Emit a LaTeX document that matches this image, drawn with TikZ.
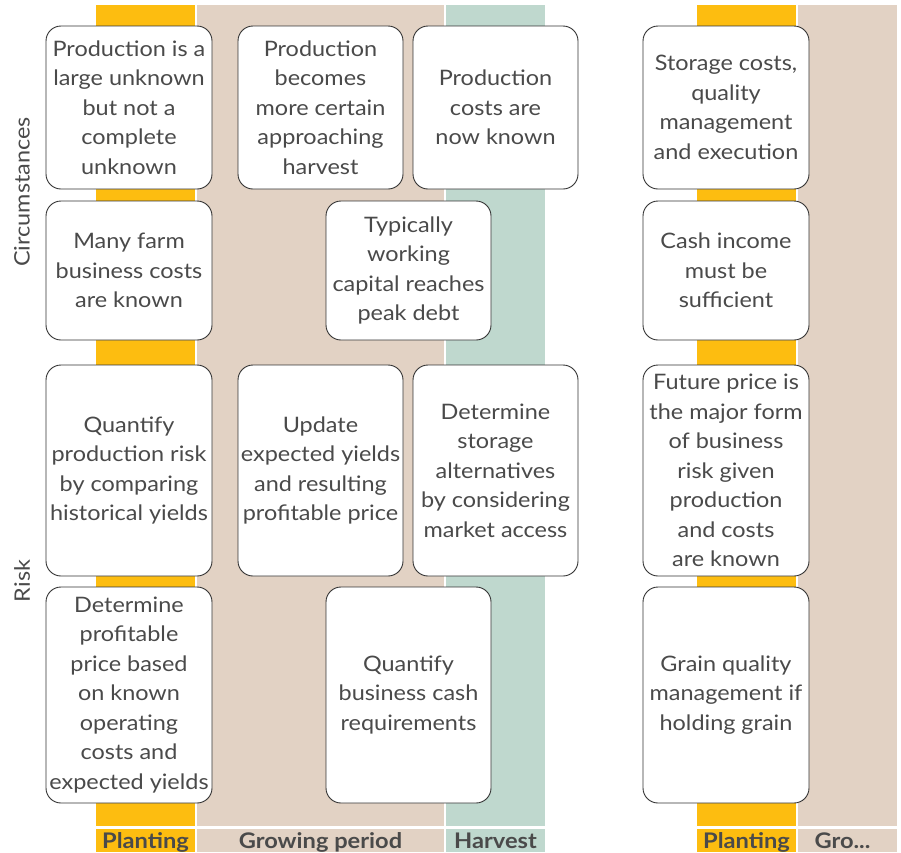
\documentclass[tikz,border=0pt]{standalone}
\usepackage{fontspec}
\setmainfont{Lato}[FakeStretch=1.1]
\definecolor{cplant}{HTML}{FDBD10}
\definecolor{cgrow}{HTML}{E2D2C4}
\definecolor{charv}{HTML}{BFD8CE}
\definecolor{txt}{HTML}{4A4A4A}
\definecolor{boxline}{HTML}{333333}
\begin{document}
\begin{tikzpicture}[x=1pt,y=-1pt,
  box/.style={draw=boxline, line width=0.9pt, rounded corners=15pt, fill=white,
    align=center, text=txt, font=\fontsize{21.3}{29.5}\selectfont, inner sep=0pt},
  colA/.style={minimum width=166pt},
  colB/.style={minimum width=165pt},
  rowA/.style={minimum height=163pt},
  rowB/.style={minimum height=139pt},
  rowC/.style={minimum height=211pt},
  rowD/.style={minimum height=216pt},
  side/.style={text=txt, font=\fontsize{21.3}{24}\selectfont, rotate=90},
  lab/.style={text=txt, font=\fontsize{21.5}{24}\selectfont\bfseries, anchor=base}
  ]
\useasboundingbox (0,0) rectangle (901,852);
% columns
\fill[cplant] (96,5) rectangle (195,826);
\fill[cgrow] (197,5) rectangle (444,826);
\fill[charv] (446,5) rectangle (545,826);
\fill[cplant] (697,5) rectangle (796,826);
\fill[cgrow] (798,5) rectangle (897,826);
% label band
\fill[cplant] (96,829) rectangle (195,852);
\fill[cgrow] (197,829) rectangle (444,852);
\fill[charv] (446,829) rectangle (545,852);
\fill[cplant] (697,829) rectangle (796,852);
\fill[cgrow] (798,829) rectangle (897,852);
\node[lab] (l1) at (145.5,848) {Planting};
\node[lab] (l2) at (320.5,848) {Growing period};
\node[lab] (l3) at (495.5,848) {Harvest};
\node[lab] (l4) at (746.5,848) {Planting};
\node[lab, anchor=base west] (l5) at (811,848) {Gro...};
% side labels
\node[side] (circ) at (22,192) {Circumstances};
\node[side] (risk) at (22,581) {Risk};
% row 1
\node[box,colA,rowA] (b11) at (129,107.5) {Production is a\\large unknown\\but not a\\complete\\unknown};
\node[box,colB,rowA] (b12) at (320.5,107.5) {Production\\becomes\\more certain\\approaching\\harvest};
\node[box,colB,rowA] (b13) at (495.5,107.5) {Production\\costs are\\now known};
\node[box,colA,rowA] (b14) at (726,107.5) {Storage costs,\\quality\\management\\and execution};
% row 2
\node[box,colA,rowB] (b21) at (129,270.5) {Many farm\\business costs\\are known};
\node[box,colB,rowB] (b22) at (408.5,270.5) {Typically\\working\\capital reaches\\peak debt};
\node[box,colA,rowB] (b23) at (726,270.5) {Cash income\\must be\\sufficient};
% row 3
\node[box,colA,rowC] (b31) at (129,470.5) {Quantify\\production risk\\by comparing\\historical yields};
\node[box,colB,rowC] (b32) at (320.5,470.5) {Update\\expected yields\\and resulting\\profitable price};
\node[box,colB,rowC] (b33) at (495.5,470.5) {Determine\\storage\\alternatives\\by considering\\market access};
\node[box,colA,rowC] (b34) at (726,470.5) {Future price is\\the major form\\of business\\risk given\\production\\and costs\\are known};
% row 4
\node[box,colA,rowD] (b41) at (129,695) {Determine\\profitable\\price based\\on known\\operating\\costs and\\expected yields};
\node[box,colB,rowD] (b42) at (408.5,695) {Quantify\\business cash\\requirements};
\node[box,colA,rowD] (b43) at (726,695) {Grain quality\\management if\\holding grain};
\end{tikzpicture}
\end{document}
